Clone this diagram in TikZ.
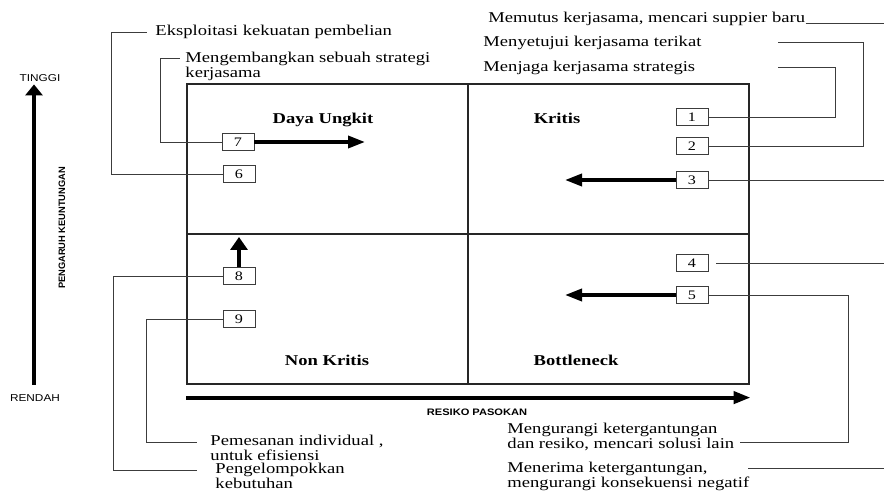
\documentclass[tikz,border=0pt]{standalone}
\usepackage{fontspec}
\setmainfont{Liberation Serif}[FakeStretch=1.24]
\setsansfont{Liberation Sans}[FakeStretch=1.18]
\newfontfamily\sfplain{Liberation Sans}
\usetikzlibrary{arrows.meta, positioning, calc}
\definecolor{cline}{HTML}{3C3C3C}
\tikzset{
  every picture/.style={line width=0.9pt},
  numbox/.style={draw=cline, fill=white, minimum width=32pt, minimum height=17pt, inner sep=0pt, font=\fontsize{13}{13}\selectfont},
  link/.style={draw=cline, line width=0.9pt},
  push/.style={-{Triangle[length=17pt, width=12pt]}, line width=3.6pt},
  pushup/.style={-{Triangle[length=13pt, width=17pt]}, line width=4pt},
  note/.style={font=\fontsize{15}{15}\selectfont, align=left, inner sep=0pt},
  quad/.style={font=\bfseries\fontsize{15}{15}\selectfont, inner sep=0pt, anchor=base},
  axislabel/.style={font=\sffamily\fontsize{10}{10}\selectfont, inner sep=0pt},
}

\begin{document}
\begin{tikzpicture}[x=1pt, y=-1pt]
  \useasboundingbox (0,0) rectangle (884,494);
  % the four quadrants
  \node[draw=black!85, line width=1.2pt, minimum width=562pt, minimum height=300pt, inner sep=0pt] (grid) at (468,234) {};
  \draw[black!85, line width=1.1pt] (grid.north) -- (grid.south) (grid.west) -- (grid.east);
  \node[quad] (daya) at (323,124) {Daya Ungkit};
  \node[quad] (kritis) at (557,124) {Kritis};
  \node[quad] (nonkritis) at (327,366) {Non Kritis};
  \node[quad] (bottle) at (576,366) {Bottleneck};
  % numbered items
  \foreach \n/\x/\y in {1/692/117, 2/692/146, 3/692/180, 4/692/263, 5/692/295, 6/239/174, 7/238/142, 8/239/276, 9/239/319}
    \node[numbox] (b\n) at (\x,\y) {\n};
  % strategies
  \node[note, anchor=base west] (tEks) at (155,36) {Eksploitasi kekuatan pembelian};
  \node[note, anchor=north west] (tKem) at (185,52) {Mengembangkan sebuah strategi\\kerjasama};
  \node[note, anchor=base west] (tPutus) at (488,23) {Memutus kerjasama, mencari suppier baru};
  \node[note, anchor=base west] (tSetuju) at (483,47) {Menyetujui kerjasama terikat};
  \node[note, anchor=base west] (tJaga) at (483,72) {Menjaga kerjasama strategis};
  \node[note, anchor=north west] (tKurang) at (507,423) {Mengurangi ketergantungan\\dan resiko, mencari solusi lain};
  \node[note, anchor=north west] (tTerima) at (507,462) {Menerima ketergantungan,\\mengurangi konsekuensi negatif};
  \node[note, anchor=north west] (tPesan) at (210,435) {Pemesanan individual ,\\untuk efisiensi};
  \node[note, anchor=north west] (tKelompok) at (215,463) {Pengelompokkan\\kebutuhan};
  % free ends of the leader lines
  \coordinate (rim) at (884,0);
  \coordinate (e6) at (147,32);
  \coordinate (e7) at (180,58);
  \coordinate (e8) at (197,470);
  \coordinate (e9) at (197,442);
  \coordinate (e1) at (778,67);
  \coordinate (e2) at (778,42);
  \coordinate (e5) at (740,442);
  \coordinate (eT) at (748,468);
  \draw[link] (b6.west) -| ([xshift=-36pt]e6) -- (e6);
  \draw[link] (b7.west) -| ([xshift=-20pt]e7) -- (e7);
  \draw[link] (b8.west) -| ([xshift=-84pt]e8) -- (e8);
  \draw[link] (b9.west) -| ([xshift=-51pt]e9) -- (e9);
  \draw[link] (b1.east) -| ([xshift=57pt]e1) -- (e1);
  \draw[link] (b2.east) -| ([xshift=85pt]e2) -- (e2);
  \draw[link] (b5.east) -| ([xshift=108pt]e5) -- (e5);
  \draw[link] (b3.east) -- (b3.east -| rim);
  \draw[link] ([xshift=8pt]b4.east) -- (b4.east -| rim);
  \draw[link] (tPutus.base east) -- (tPutus.base east -| rim);
  \draw[link] (eT) -- (eT -| rim);
  % moves between quadrants
  \coordinate (a7) at (365,142);
  \coordinate (a3) at (565,180);
  \coordinate (a5) at (565,295);
  \coordinate (a8) at (239,237);
  \draw[push] (b7.east) -- (a7);
  \draw[push] (b3.west) -- (a3);
  \draw[push] (b5.west) -- (a5);
  \draw[pushup] (b8.north) -- (a8);
  % axes
  \coordinate (yaxis) at (34,0);
  \draw[pushup, -{Triangle[length=11pt, width=17pt]}] (yaxis |- grid.south) -- ([yshift=-1pt]yaxis |- grid.north);
  \draw[push, line width=4pt] ($(grid.south west)+(0,13)$) -- ($(grid.south east)+(1,13)$);
  \node[axislabel] (tinggi) at (40,78) {TINGGI};
  \node[axislabel] (rendah) at (35,398) {RENDAH};
  \node[font=\sfplain\bfseries\fontsize{9.3}{9.3}\selectfont, rotate=90, inner sep=0pt] (profit) at (62,228) {PENGARUH KEUNTUNGAN};
  \node[axislabel, font=\sffamily\bfseries\fontsize{9.4}{9.4}\selectfont] (risk) at (477,412) {RESIKO PASOKAN};
\end{tikzpicture}
\end{document}
